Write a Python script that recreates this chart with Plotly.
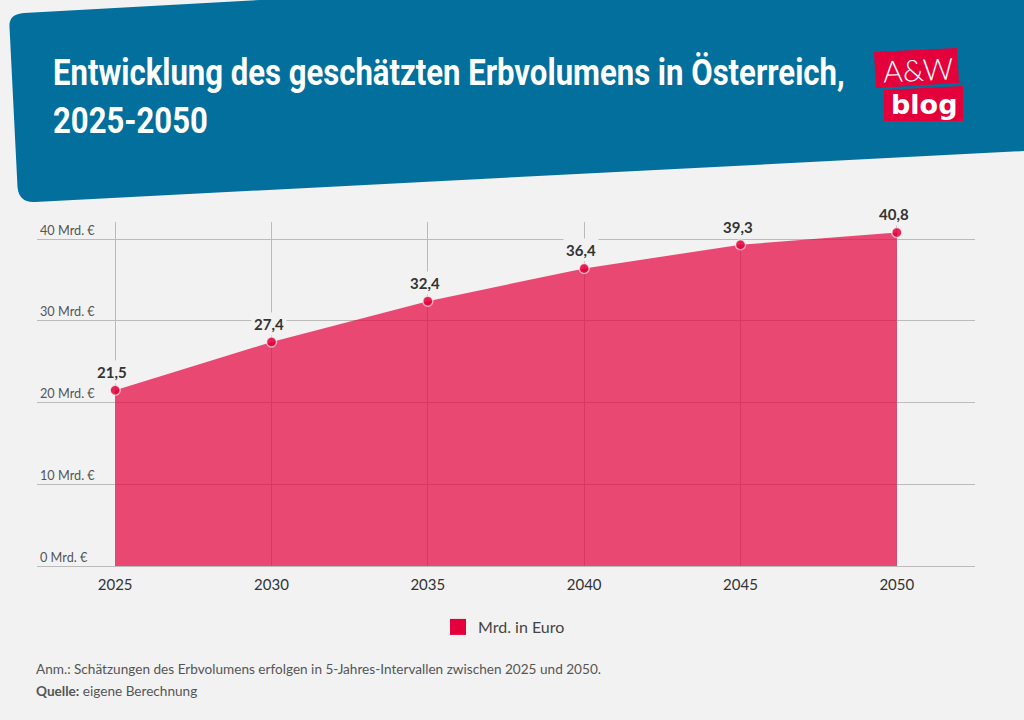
import plotly.graph_objects as go

# Daten
jahre = [2025, 2030, 2035, 2040, 2045, 2050]
erbvolumen = [21.5, 27.4, 32.4, 36.4, 39.3, 40.8]
y_ticks = [0, 10, 20, 30, 40]
y_ticktext = ["0 Mrd. €", "10 Mrd. €", "20 Mrd. €", "30 Mrd. €", "40 Mrd. €"]
titel = "<b>Entwicklung des geschätzten Erbvolumens in Österreich,<br>2025-2050</b>"
reihe = "Mrd. in Euro"
anmerkung = "Anm.: Schätzungen des Erbvolumens erfolgen in 5-Jahres-Intervallen zwischen 2025 und 2050."
quelle = "<b>Quelle:</b> eigene Berechnung"

W, H = 1024, 720
L, R, T, B = 37, 975, 222, 566  # Plotfläche in Pixeln

BG = "#f2f2f2"
BLAU = "#036f9d"
ROT = "#e4003a"
FONT = "Lato"


def px(x):
    return (x - L) / (R - L)


def py(y):
    return (B - y) / (B - T)


def pfad(punkte):
    # Polygon in Pixeln -> SVG-Pfad in paper-Koordinaten
    teile = [f"M{px(punkte[0][0])},{py(punkte[0][1])}"]
    for p in punkte[1:]:
        if len(p) == 4:
            teile.append(f"Q{px(p[0])},{py(p[1])} {px(p[2])},{py(p[3])}")
        else:
            teile.append(f"L{px(p[0])},{py(p[1])}")
    return " ".join(teile) + " Z"


kopf = [(24, 13), (1024, -42), (1024, 151), (35, 202), (19, 203, 17.5, 187), (9.5, 27), (8.5, 14, 24, 13)]
logo_oben = [(874, 52), (957, 48), (959, 83), (876, 88)]
logo_unten = [(884, 90), (963, 86), (963, 121), (884, 121)]

fig = go.Figure()

fig.add_trace(go.Scatter(
    x=jahre, y=erbvolumen, mode="lines", fill="tozeroy",
    fillcolor="rgba(228,0,58,0.7)", line=dict(width=0),
    showlegend=False, hoverinfo="skip"))

fig.add_trace(go.Scatter(
    x=jahre, y=erbvolumen, mode="markers",
    marker=dict(size=10, color=ROT, opacity=0.85, line=dict(color="rgba(255,255,255,0.7)", width=1.5)),
    showlegend=False))

# nur für den Legendeneintrag
fig.add_trace(go.Scatter(
    x=[None], y=[None], mode="markers", name=reihe,
    marker=dict(symbol="square", size=16, color=ROT)))

for jahr, wert in zip(jahre, erbvolumen):
    fig.add_annotation(
        x=jahr, y=wert, text="<b>" + f"{wert:.1f}".replace(".", ",") + "</b>",
        showarrow=False, yanchor="bottom", yshift=6, xshift=-3, bgcolor=BG, borderpad=2,
        font=dict(family=FONT, size=15, color="#333333"))

for text, y in [(anmerkung, 669), (quelle, 691)]:
    fig.add_annotation(
        xref="paper", yref="paper", x=px(34), y=py(y), text=text, showarrow=False,
        xanchor="left", yanchor="middle", font=dict(family=FONT, size=13.6, color="#555555"))

fig.add_annotation(
    xref="paper", yref="paper", x=px(918), y=py(69), text="A&amp;W", showarrow=False,
    xanchor="center", yanchor="middle",
    textangle=-2.5, font=dict(family=FONT, size=30, color="white", weight=300))
fig.add_annotation(
    xref="paper", yref="paper", x=px(924), y=py(104), text="<b>blog</b>", showarrow=False,
    xanchor="center", yanchor="middle",
    font=dict(family="DejaVu Sans", size=27, color="white"))

for punkte, farbe in [(kopf, BLAU), (logo_oben, ROT), (logo_unten, ROT)]:
    fig.add_shape(type="path", xref="paper", yref="paper", path=pfad(punkte),
                  fillcolor=farbe, line=dict(width=0), layer="below")

fig.update_layout(
    width=W, height=H,
    margin=dict(l=L, r=W - R, t=T, b=H - B),
    paper_bgcolor=BG, plot_bgcolor=BG,
    font=dict(family=FONT, color="#333333"),
    title=dict(text=titel, x=53 / W, xanchor="left", y=1 - 85 / H, yanchor="top",
               font=dict(family="Roboto", size=37, color="white")),
    legend=dict(orientation="h", x=px(504), xanchor="center", y=py(627), yanchor="middle",
                font=dict(family=FONT, size=16, color="#444444"), bgcolor="rgba(0,0,0,0)"),
    xaxis=dict(range=[2022.5, 2052.5], tickvals=jahre, showgrid=True, gridcolor="#bbbbbb",
               gridwidth=1, zeroline=False, showline=True, linecolor="#bbbbbb", ticks="",
               ticklabelstandoff=5,
               tickfont=dict(family=FONT, size=15, color="#333333")),
    yaxis=dict(range=[0, 42.08], tickvals=y_ticks, ticktext=y_ticktext, showgrid=True,
               gridcolor="#bbbbbb", gridwidth=1, zeroline=False, showline=False, ticks="",
               ticklabelposition="inside top", ticklabeloverflow="allow", layer="below traces",
               tickfont=dict(family=FONT, size=12.7, color="#555555")),
)

# der Titel ist im Original eine schmale Schrift: horizontal stauchen
post = """
document.body.style.margin='0';document.body.style.overflow='hidden';
var t=document.querySelector('.gtitle');
if(t){var sx=792/t.getBBox().width;t.setAttribute('transform','translate(53,0) scale('+sx+',1) translate(-53,0)');}
"""
fig.write_html("out.html", config=dict(displayModeBar=False), post_script=post)
